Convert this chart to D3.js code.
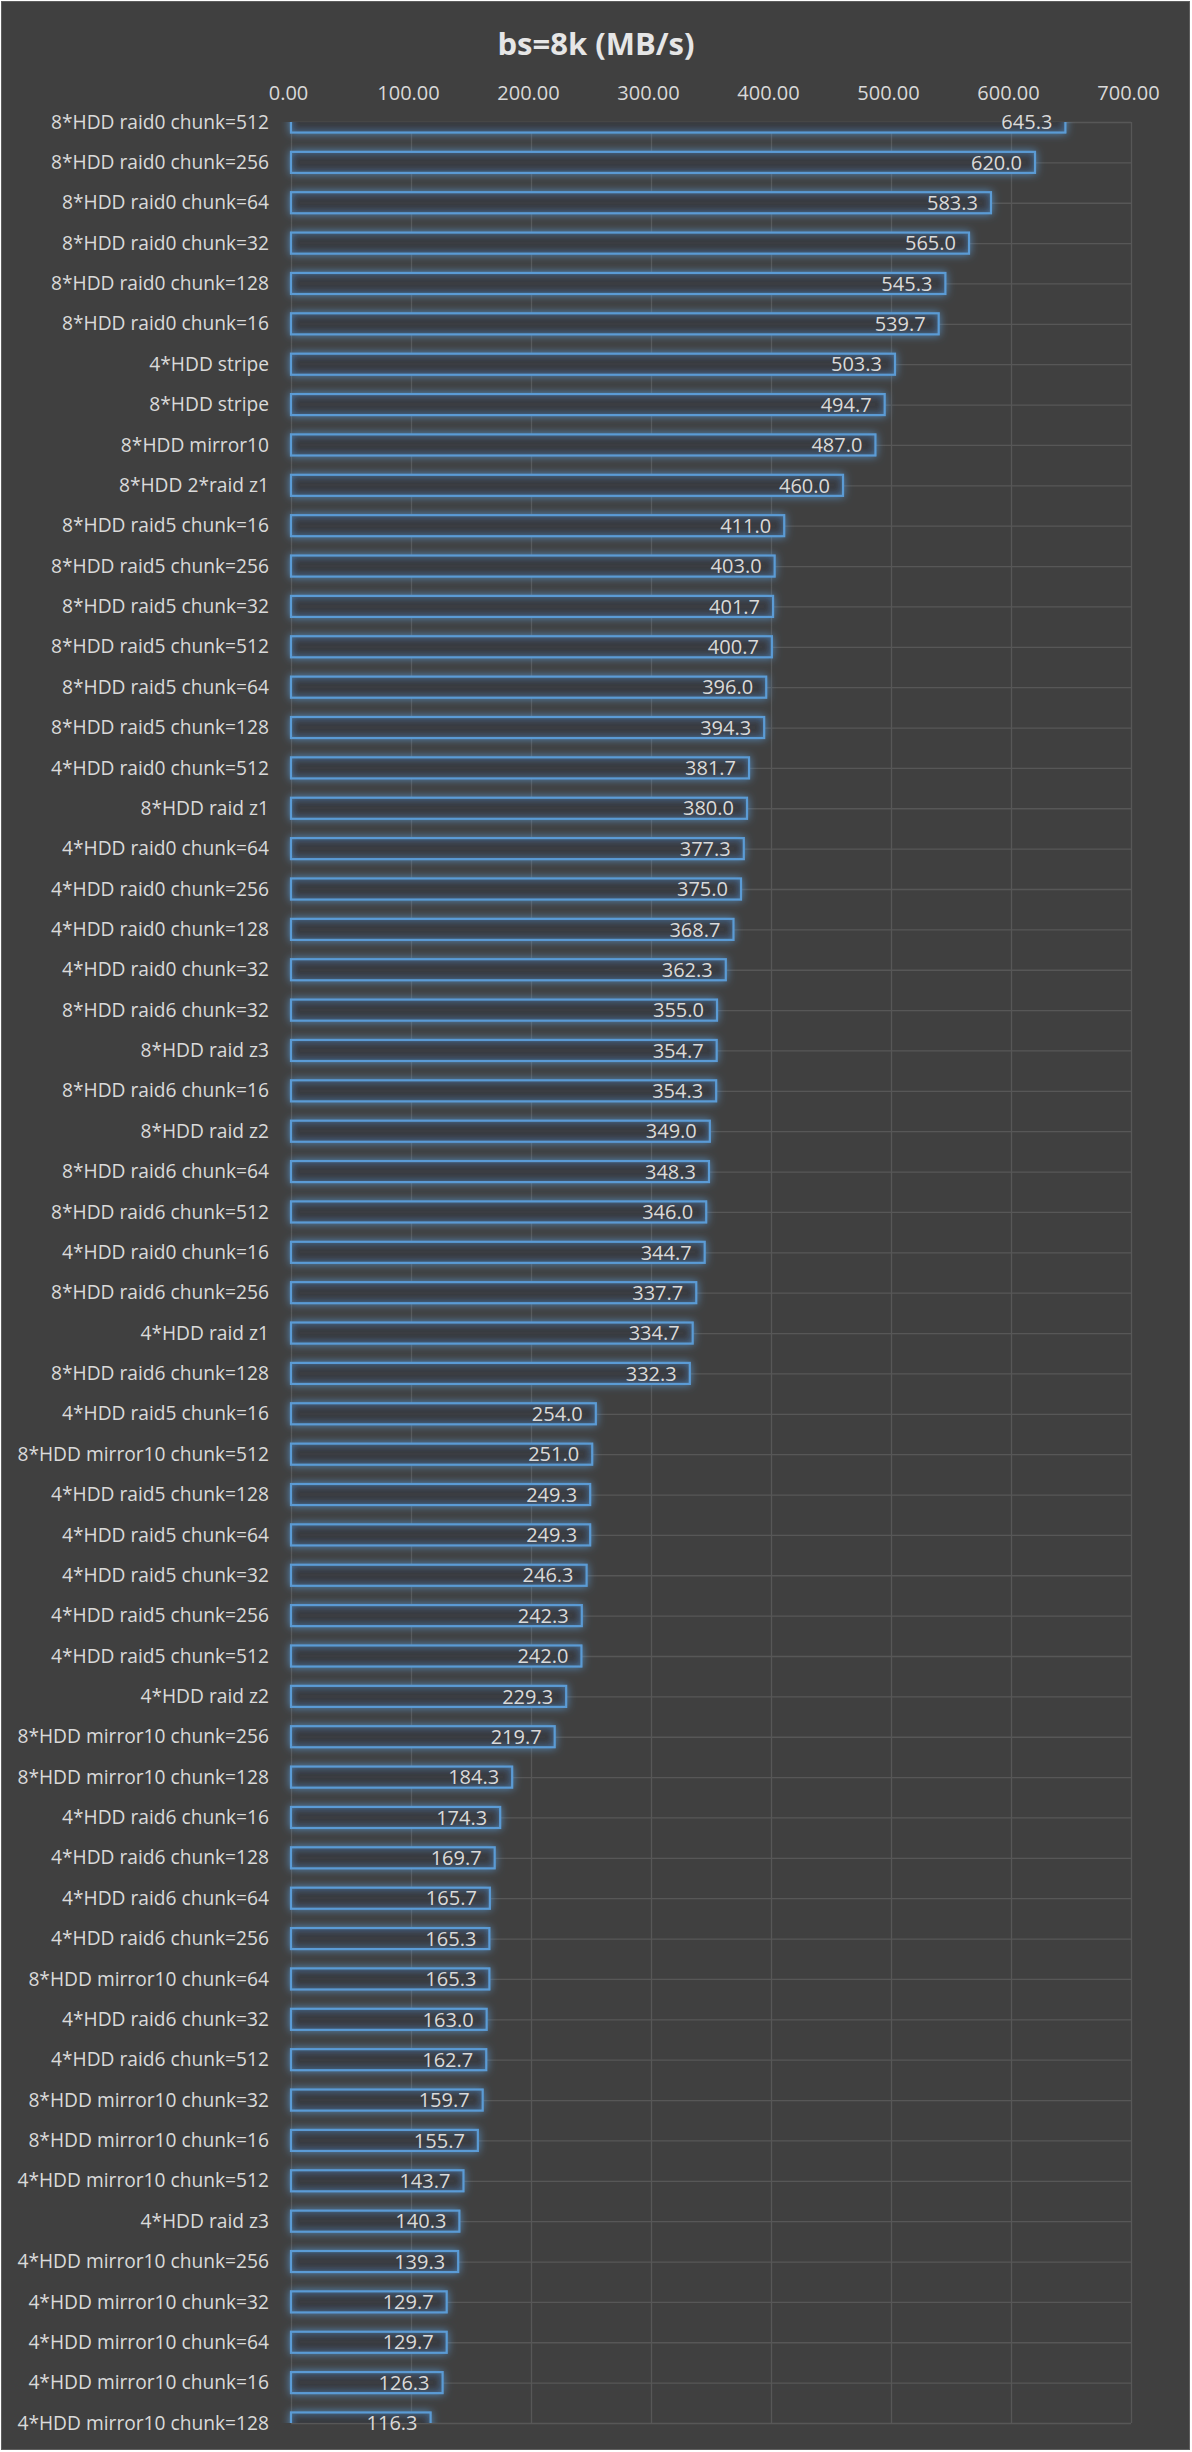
<!DOCTYPE html>
<html>
<head>
<meta charset="utf-8">
<script src="https://cdn.jsdelivr.net/npm/d3@7"></script>
<style>
  html, body { margin: 0; padding: 0; background: #ffffff; }
  svg { display: block; }
  text { font-family: "Open Sans", "Noto Sans", sans-serif; }
</style>
</head>
<body>
<div id="chart"></div>
<script>
// chart data, top to bottom
const categories = [
    '8*HDD raid0 chunk=512', '8*HDD raid0 chunk=256', '8*HDD raid0 chunk=64', '8*HDD raid0 chunk=32',
    '8*HDD raid0 chunk=128', '8*HDD raid0 chunk=16', '4*HDD stripe', '8*HDD stripe',
    '8*HDD mirror10', '8*HDD 2*raid z1', '8*HDD raid5 chunk=16', '8*HDD raid5 chunk=256',
    '8*HDD raid5 chunk=32', '8*HDD raid5 chunk=512', '8*HDD raid5 chunk=64', '8*HDD raid5 chunk=128',
    '4*HDD raid0 chunk=512', '8*HDD raid z1', '4*HDD raid0 chunk=64', '4*HDD raid0 chunk=256',
    '4*HDD raid0 chunk=128', '4*HDD raid0 chunk=32', '8*HDD raid6 chunk=32', '8*HDD raid z3',
    '8*HDD raid6 chunk=16', '8*HDD raid z2', '8*HDD raid6 chunk=64', '8*HDD raid6 chunk=512',
    '4*HDD raid0 chunk=16', '8*HDD raid6 chunk=256', '4*HDD raid z1', '8*HDD raid6 chunk=128',
    '4*HDD raid5 chunk=16', '8*HDD mirror10 chunk=512', '4*HDD raid5 chunk=128', '4*HDD raid5 chunk=64',
    '4*HDD raid5 chunk=32', '4*HDD raid5 chunk=256', '4*HDD raid5 chunk=512', '4*HDD raid z2',
    '8*HDD mirror10 chunk=256', '8*HDD mirror10 chunk=128', '4*HDD raid6 chunk=16', '4*HDD raid6 chunk=128',
    '4*HDD raid6 chunk=64', '4*HDD raid6 chunk=256', '8*HDD mirror10 chunk=64', '4*HDD raid6 chunk=32',
    '4*HDD raid6 chunk=512', '8*HDD mirror10 chunk=32', '8*HDD mirror10 chunk=16', '4*HDD mirror10 chunk=512',
    '4*HDD raid z3', '4*HDD mirror10 chunk=256', '4*HDD mirror10 chunk=32', '4*HDD mirror10 chunk=64',
    '4*HDD mirror10 chunk=16', '4*HDD mirror10 chunk=128'
];

const values = [
    645.3, 620.0, 583.3, 565.0, 545.3, 539.7, 503.3, 494.7,
    487.0, 460.0, 411.0, 403.0, 401.7, 400.7, 396.0, 394.3,
    381.7, 380.0, 377.3, 375.0, 368.7, 362.3, 355.0, 354.7,
    354.3, 349.0, 348.3, 346.0, 344.7, 337.7, 334.7, 332.3,
    254.0, 251.0, 249.3, 249.3, 246.3, 242.3, 242.0, 229.3,
    219.7, 184.3, 174.3, 169.7, 165.7, 165.3, 165.3, 163.0,
    162.7, 159.7, 155.7, 143.7, 140.3, 139.3, 129.7, 129.7,
    126.3, 116.3
];

const xTicks = [0, 100, 200, 300, 400, 500, 600, 700];
const title = 'bs=8k (MB/s)';

const W = 1192, H = 2452;
const margin = {top: 122, right: 61, bottom: 29, left: 291};
const plotW = W - margin.left - margin.right;
const plotH = H - margin.top - margin.bottom;

const svg = d3.select('#chart')
    .append('svg')
    .attr('width', W)
    .attr('height', H);

// chart frame
svg.append('rect')
    .attr('x', 1.5).attr('y', 1.5)
    .attr('width', W - 4).attr('height', H - 4)
    .attr('fill', '#404040')
    .attr('stroke', '#5e5e5e');

const defs = svg.append('defs');

// outer + inner glow like the Excel bar effect
const glow = defs.append('filter').attr('id', 'glow')
    .attr('x', '-10%').attr('y', '-90%').attr('width', '120%').attr('height', '280%');
glow.append('feGaussianBlur').attr('in', 'SourceAlpha').attr('stdDeviation', 4.5).attr('result', 'blur');
glow.append('feFlood').attr('flood-color', '#5b9bd5').attr('flood-opacity', 0.8).attr('result', 'blue');
glow.append('feComposite').attr('in', 'blue').attr('in2', 'blur').attr('operator', 'in').attr('result', 'outerGlow');
glow.append('feComposite').attr('in', 'blur').attr('in2', 'SourceAlpha')
    .attr('operator', 'arithmetic').attr('k1', 0).attr('k2', -1).attr('k3', 1).attr('k4', 0)
    .attr('result', 'edge');
glow.append('feFlood').attr('flood-color', '#5b9bd5').attr('flood-opacity', 0.6).attr('result', 'blueIn');
glow.append('feComposite').attr('in', 'blueIn').attr('in2', 'edge').attr('operator', 'in').attr('result', 'innerGlow');
const merge = glow.append('feMerge');
merge.append('feMergeNode').attr('in', 'outerGlow');
merge.append('feMergeNode').attr('in', 'SourceGraphic');
merge.append('feMergeNode').attr('in', 'innerGlow');

defs.append('clipPath').attr('id', 'plotClip')
    .append('rect')
    .attr('x', -10).attr('y', 0)
    .attr('width', plotW + 20).attr('height', plotH);

const x = d3.scaleLinear().domain([0, 700]).range([0, plotW]);
const y = d3.scalePoint().domain(categories).range([0, plotH]);

const g = svg.append('g').attr('transform', `translate(${margin.left},${margin.top})`);

// title
svg.append('text')
    .attr('x', W / 2)
    .attr('y', 55)
    .attr('text-anchor', 'middle')
    .attr('fill', '#e6e6e6')
    .attr('font-size', 31)
    .attr('font-weight', 'bold')
    .text(title);

// vertical gridlines
g.append('g')
    .attr('class', 'grid-x')
    .call(d3.axisTop(x).tickValues(xTicks).tickSize(-plotH).tickFormat(''))
    .call(s => s.select('.domain').remove())
    .call(s => s.selectAll('line').attr('stroke', '#575757').attr('stroke-width', 1.3));

// horizontal gridlines at each category
g.append('g')
    .attr('class', 'grid-y')
    .call(d3.axisLeft(y).tickSize(-plotW).tickFormat(''))
    .call(s => s.select('.domain').remove())
    .call(s => s.selectAll('line').attr('stroke', '#575757').attr('stroke-width', 1.3));

// top axis labels
g.append('g')
    .attr('transform', 'translate(-3,-28)')
    .call(d3.axisTop(x).tickValues(xTicks).tickSize(0).tickPadding(0).tickFormat(d3.format('.2f')))
    .call(s => s.select('.domain').remove())
    .call(s => s.selectAll('text')
        .attr('fill', '#d9d9d9')
        .attr('font-size', 20)
        .attr('dy', '0.32em')
        .style('font-family', '"Open Sans", sans-serif'));

// category labels
g.append('g')
    .call(d3.axisLeft(y).tickSize(0).tickPadding(22))
    .call(s => s.select('.domain').remove())
    .call(s => s.selectAll('text')
        .attr('fill', '#dadada')
        .attr('font-size', 19.2)
        .style('font-family', '"Open Sans", sans-serif'));

// bars
const barH = 21;
g.append('g')
    .attr('clip-path', 'url(#plotClip)')
    .selectAll('rect')
    .data(values)
    .join('rect')
    .attr('x', 0)
    .attr('y', (d, i) => y(categories[i]) - barH / 2)
    .attr('width', d => x(d))
    .attr('height', barH)
    .attr('fill', '#3a3d42')
    .attr('stroke', '#5b9bd5')
    .attr('stroke-width', 2.2)
    .attr('filter', 'url(#glow)');

// data labels (inside end)
g.append('g')
    .selectAll('text')
    .data(values)
    .join('text')
    .attr('x', d => x(d) - 13)
    .attr('y', (d, i) => y(categories[i]))
    .attr('dy', '0.36em')
    .attr('text-anchor', 'end')
    .attr('fill', '#dadada')
    .attr('font-size', 20)
    .text(d => d3.format('.1f')(d));
</script>
</body>
</html>
